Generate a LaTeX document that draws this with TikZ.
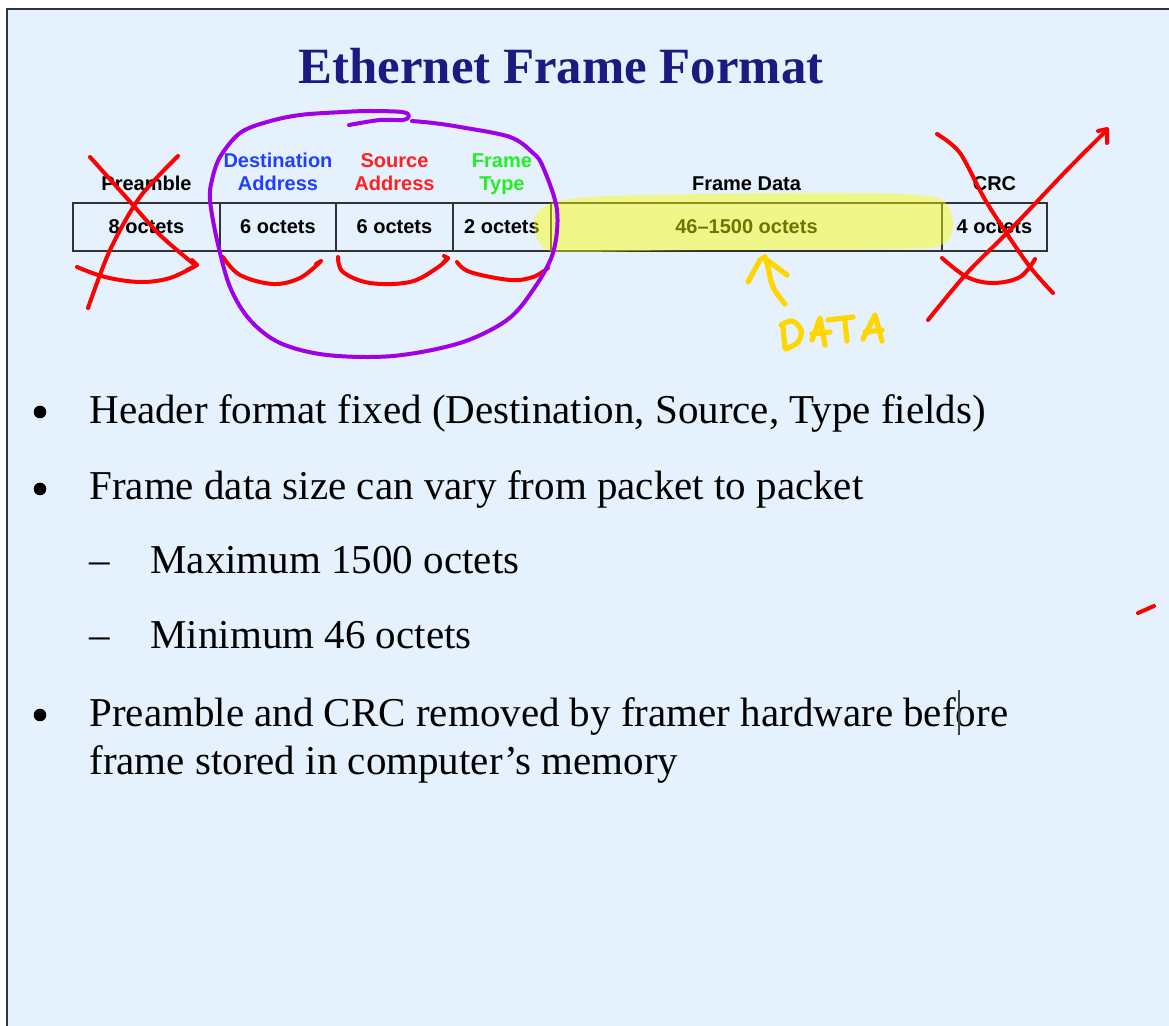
\documentclass[tikz,border=0pt]{standalone}
\usepackage{fontspec}
\setmainfont{Liberation Serif}
\newfontfamily\labelsans{Liberation Sans}
\usetikzlibrary{positioning}

\definecolor{slidebg}{RGB}{229,241,253}
\definecolor{titleblue}{RGB}{26,26,128}
\definecolor{dstblue}{RGB}{32,64,255}
\definecolor{srcred}{RGB}{255,32,32}
\definecolor{typegreen}{RGB}{32,240,32}
\definecolor{inkred}{RGB}{255,0,0}
\definecolor{inkpurple}{RGB}{160,0,230}
\definecolor{inkgold}{RGB}{255,214,0}
\definecolor{hilite}{RGB}{255,255,0}
\definecolor{framegray}{RGB}{51,51,51}

\tikzset{
  cell/.style={draw=framegray, line width=0.75pt, minimum height=24pt, inner sep=0pt,
               font=\labelsans\bfseries\fontsize{10}{12}\selectfont},
  fieldlabel/.style={anchor=base, inner sep=0pt, font=\labelsans\bfseries\fontsize{10}{12}\selectfont},
  bodytext/.style={anchor=base west, inner sep=0pt, font=\fontsize{20.5}{24}\selectfont},
  dot/.style={circle, fill=black, inner sep=0pt, minimum size=6.3pt},
  marker/.style={anchor=base, inner sep=0pt, font=\fontsize{20.5}{24}\selectfont},
  redink/.style={draw=inkred, line width=2pt, line cap=round, line join=round},
  purpleink/.style={draw=inkpurple, line width=2pt, line cap=round, line join=round},
  goldink/.style={draw=inkgold, line width=2.6pt, line cap=round, line join=round},
}

\begin{document}
\begin{tikzpicture}[x=0.5pt, y=-0.5pt]
\useasboundingbox (0,0) rectangle (1169,1026);
\fill[white] (0,0) rectangle (1169,1026);
% slide background with its top and left edge
\fill[slidebg] (7,9) rectangle (1169,1026);
\draw[framegray, line width=1.2pt] (7,1026) -- (7,9) -- (1169,9);

% title
\node[anchor=base, inner sep=0pt, text=titleblue, font=\bfseries\fontsize{25.4}{30}\selectfont]
  (title) at (561,84) {Ethernet Frame Format};

% frame layout cells
\node[cell, minimum width=73.5pt]  (pre)  at (146.5,227) {8 octets};
\node[cell, minimum width=58pt]    (dst)  at (278,227)   {6 octets};
\node[cell, minimum width=58.5pt]  (src)  at (394.5,227) {6 octets};
\node[cell, minimum width=49pt]    (typ)  at (502,227)   {2 octets};
\node[cell, minimum width=195.5pt] (data) at (746.5,227) {46–1500 octets};
\node[cell, minimum width=52.5pt]  (crc)  at (994.5,227) {4 octets};

% field names
\node[fieldlabel] (lpre)  at (146.5,191) {Preamble};
\node[fieldlabel, text=dstblue] (ldst1) at (278,168) {Destination};
\node[fieldlabel, text=dstblue] (ldst2) at (278,191) {Address};
\node[fieldlabel, text=srcred] (lsrc1) at (394.5,168) {Source};
\node[fieldlabel, text=srcred] (lsrc2) at (394.5,191) {Address};
\node[fieldlabel, text=typegreen] (ltyp1) at (502,168) {Frame};
\node[fieldlabel, text=typegreen] (ltyp2) at (502,191) {Type};
\node[fieldlabel] (ldata) at (746.5,191) {Frame Data};
\node[fieldlabel] (lcrc)  at (994.5,191) {CRC};

% bullet list
\node[dot] (b1) at (40,412) {};
\node[bodytext] (t1) at (89,424) {Header format fixed (Destination, Source, Type fields)};
\node[dot] (b2) at (40,489) {};
\node[bodytext] (t2) at (89,500) {Frame data size can vary from packet to packet};
\node[marker] (d1) at (100,574) {–};
\node[bodytext] (t3) at (150,574) {Maximum 1500 octets};
\node[marker] (d2) at (100,649) {–};
\node[bodytext] (t4) at (150,649) {Minimum 46 octets};
\node[dot] (b3) at (40,715) {};
\node[bodytext] (t5) at (89,727) {Preamble and CRC removed by framer hardware before};
\node[bodytext] (t6) at (89,775) {frame stored in computer’s memory};
% text cursor
\draw[black!75, line width=0.6pt] (959,690) -- (959,735);

% highlighter over the data field
\fill[hilite, opacity=0.45] plot[smooth cycle, tension=0.6] coordinates
  {(540,210) (580,198) (700,194) (850,193) (928,196) (948,206) (953,226) (943,244) (900,249) (700,250) (580,252) (548,250) (535,232)};

% crossed-out preamble
\draw[redink] plot[smooth, tension=0.5] coordinates {(90,157) (125,196) (160,235) (195,265)};
\draw[redink] (187,270) -- (197,265) -- (192,260);
\draw[redink] plot[smooth, tension=0.5] coordinates {(178,156) (140,197) (110,250) (88,308)};
\draw[redink] plot[smooth, tension=0.6] coordinates {(77,267) (105,277) (140,282) (170,278) (197,265)};

% header field brackets
\draw[redink] plot[smooth, tension=0.6] coordinates {(223,257) (240,275) (273,284) (300,278) (320,262)};
\draw[redink] (316,264) -- (321,261);
\draw[redink] plot[smooth, tension=0.6] coordinates {(338,257) (343,272) (370,283) (410,282) (437,268) (448,258)};
\draw[redink] (443,263) -- (448,258) -- (444,256);
\draw[redink] plot[smooth, tension=0.6] coordinates {(457,262) (470,272) (510,280) (533,277) (548,268)};

% header circled
\draw[purpleink] plot[smooth, tension=0.55] coordinates
  {(349,125) (380,120) (403,120) (409,116) (402,112) (370,111) (343,112) (300,115) (267,122) (240,133)
   (220,157) (212,180) (210,200) (217,240) (230,287) (250,320) (280,343) (327,355) (393,356)
   (460,343) (507,320) (533,290) (553,253) (557,210) (543,167) (533,153) (510,137) (460,127) (433,123) (412,121)};

% crossed-out CRC
\draw[redink] plot[smooth, tension=0.5] coordinates {(937,134) (960,153) (987,203) (1027,263) (1053,293)};
\draw[redink] plot[smooth, tension=0.5] coordinates {(928,320) (967,273) (1010,230) (1067,170) (1107,130)};
\draw[redink] (1098,131) -- (1107,129) -- (1107,143);
\draw[redink] plot[smooth, tension=0.6] coordinates {(942,258) (967,277) (993,283) (1020,277) (1035,259)};

% stray pen mark
\draw[redink] (1138,613) -- (1154,606);

% arrow pointing at the data field
\draw[goldink] plot[smooth, tension=0.6] coordinates {(785,304) (773,287) (768,267) (765,257)};
\draw[goldink] (748,282) -- (760,260) -- (765,257);
\draw[goldink] (767,260) -- (787,275);

% handwritten DATA
\draw[goldink] (783,327) -- (785,348);
\draw[goldink] plot[smooth, tension=0.6] coordinates {(781,325) (792,321) (801,330) (798,342) (786,349)};
\draw[goldink] (812,340) -- (820,318) -- (825,345);
\draw[goldink] (812,334) -- (830,332);
\draw[goldink] (828,320) -- (853,317);
\draw[goldink] (845,322) -- (847,341);
\draw[goldink] (863,339) -- (875,315) -- (882,341);
\draw[goldink] (865,332) -- (882,330);
\end{tikzpicture}
\end{document}
